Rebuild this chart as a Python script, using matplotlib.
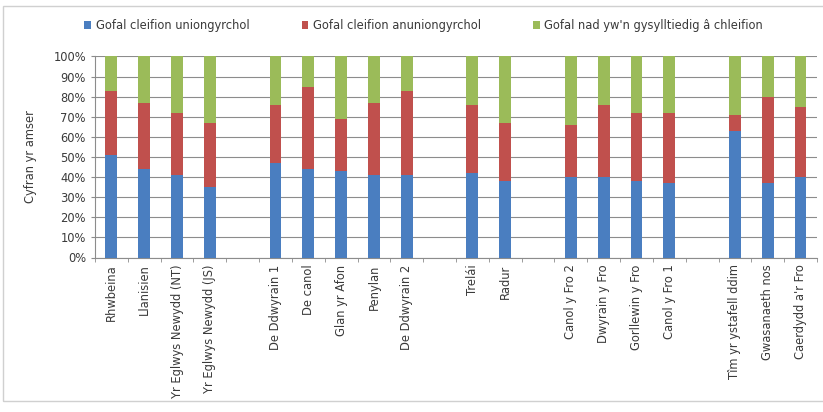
import matplotlib
matplotlib.use('Agg')
import matplotlib.pyplot as plt
import numpy as np
from matplotlib.ticker import FixedLocator, PercentFormatter

plt.rcParams['font.family'] = ['DejaVu Sans']

# blank labels are the empty slots between groups
labels = ['Rhwbeina', 'Llanisien', 'Yr Eglwys Newydd (NT)', 'Yr Eglwys Newydd (JS)', '',
          'De Ddwyrain 1', 'De canol', 'Glan yr Afon', 'Penylan', 'De Ddwyrain 2', '',
          'Trelái', 'Radur', '',
          'Canol y Fro 2', 'Dwyrain y Fro', 'Gorllewin y Fro', 'Canol y Fro 1', '',
          'Tîm yr ystafell ddim', 'Gwasanaeth nos', "Caerdydd a'r Fro"]

direct = [51, 44, 41, 35, 0,
          47, 44, 43, 41, 41, 0,
          42, 38, 0,
          40, 40, 38, 37, 0,
          63, 37, 40]
indirect = [32, 33, 31, 32, 0,
            29, 41, 26, 36, 42, 0,
            34, 29, 0,
            26, 36, 34, 35, 0,
            8, 43, 35]
other = [17, 23, 28, 33, 0,
         24, 15, 31, 23, 17, 0,
         24, 33, 0,
         34, 24, 28, 28, 0,
         29, 20, 25]

series_names = ['Gofal cleifion uniongyrchol', 'Gofal cleifion anuniongyrchol',
                "Gofal nad yw'n gysylltiedig â chleifion"]
colors = ['#4A7EC0', '#C0504D', '#9BBB59']

fig = plt.figure(figsize=(8.23, 4.12), dpi=100)
ax = fig.add_axes([0.1154, 0.375, 0.8773, 0.488])

x = np.arange(len(labels))
bottom = np.zeros(len(labels))
for vals, name, c in zip([direct, indirect, other], series_names, colors):
    ax.bar(x, vals, 0.36, bottom=bottom, color=c, label=name, zorder=3)
    bottom += np.array(vals)

ax.set_xlim(-0.5, len(labels) - 0.5)
ax.set_ylim(0, 100)
ax.yaxis.set_major_locator(FixedLocator(np.arange(0, 101, 10)))
ax.yaxis.set_major_formatter(PercentFormatter(decimals=0))
ax.grid(axis='y', color='#8c8c8c', linewidth=0.8, zorder=0)

ax.set_xticks(x)
ax.set_xticklabels(labels, rotation=90, fontsize=8.3, color='#3a3a3a')
ax.tick_params(axis='x', which='major', length=0, pad=5)
ax.set_xticks(np.arange(-0.5, len(labels), 1), minor=True)
ax.tick_params(axis='x', which='minor', length=3, color='#8c8c8c', direction='out')
ax.tick_params(axis='y', labelsize=8.3, length=3, color='#8c8c8c', labelcolor='#3a3a3a')

for s in ['top', 'right']:
    ax.spines[s].set_visible(False)
for s in ['left', 'bottom']:
    ax.spines[s].set_color('#8c8c8c')
    ax.spines[s].set_linewidth(0.8)

ax.set_ylabel('Cyfran yr amser', fontsize=8.3, color='#3a3a3a', labelpad=12)

fig.legend(loc='center', bbox_to_anchor=(0.515, 0.938), ncol=3, frameon=False,
           fontsize=8.3, handlelength=0.6, handleheight=0.6, columnspacing=4.5,
           handletextpad=0.4, labelcolor='#3a3a3a')

# outer chart border
fig.add_artist(plt.Rectangle((0.004, 0.027), 1.2, 0.958, transform=fig.transFigure,
                             fill=False, edgecolor='#d0d0d0', linewidth=1))

fig.savefig('out.png', dpi=100)
